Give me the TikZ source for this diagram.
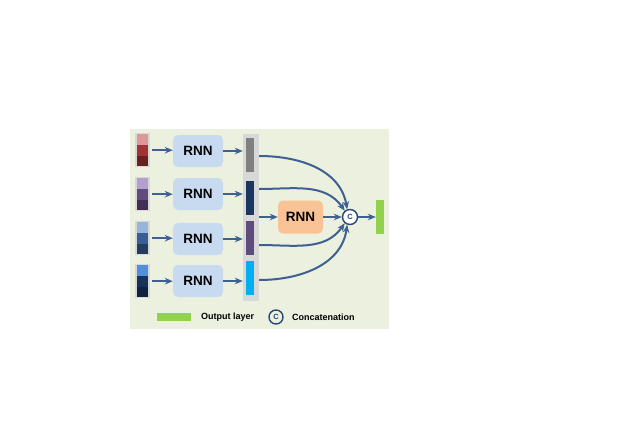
\documentclass[tikz,border=0pt]{standalone}
\usepackage{fontspec}
\setmainfont{Liberation Sans}
\usetikzlibrary{arrows.meta,calc}

\definecolor{panel}{RGB}{235,240,223}
\definecolor{arrowc}{RGB}{62,96,146}
\definecolor{rnnblue}{RGB}{200,218,240}
\definecolor{rnnorange}{RGB}{249,195,150}
\definecolor{outgreen}{RGB}{146,208,80}
\definecolor{colgray}{RGB}{216,216,216}
\definecolor{catnavy}{RGB}{40,70,120}
% input colours
\definecolor{redA}{RGB}{222,150,150}
\definecolor{redB}{RGB}{160,52,52}
\definecolor{redC}{RGB}{105,32,32}
\definecolor{purA}{RGB}{180,160,205}
\definecolor{purB}{RGB}{95,75,125}
\definecolor{purC}{RGB}{65,45,85}
\definecolor{bluA}{RGB}{150,180,220}
\definecolor{bluB}{RGB}{55,95,150}
\definecolor{bluC}{RGB}{35,60,95}
\definecolor{navA}{RGB}{80,145,220}
\definecolor{navB}{RGB}{25,50,90}
\definecolor{navC}{RGB}{15,35,65}
% hidden state colours
\definecolor{hgray}{RGB}{128,128,128}
\definecolor{hnavy}{RGB}{25,55,95}
\definecolor{hpurple}{RGB}{95,75,125}
\definecolor{hcyan}{RGB}{0,176,240}

\tikzset{
  arr/.style={-{Stealth[length=8pt,width=6.5pt]},line width=2pt,draw=arrowc},
  rnn/.style={rounded corners=5pt,fill=rnnblue,minimum width=50pt,minimum height=32pt,
    font=\bfseries\fontsize{13.5}{13.5}\selectfont},
  bar/.style={minimum width=8pt,minimum height=34pt,inner sep=0pt},
  cat/.style={circle,draw=catnavy,line width=1.4pt,fill=white,inner sep=0pt,minimum size=15pt,
    text=catnavy,font=\bfseries\fontsize{7.5}{7.5}\selectfont},
  legend/.style={anchor=west,inner sep=0pt,font=\bfseries\fontsize{9}{9}\selectfont}
}

% input sequence: name, top y, three colours
\newcommand{\instack}[5]{%
  \node[fill=colgray,minimum width=15pt,minimum height=34pt,inner sep=0pt,anchor=north] (#1) at (142.5,-#2) {};
  \fill[#3] (137,-#2-1) rectangle (148,-#2-12);
  \fill[#4] (137,-#2-12) rectangle (148,-#2-23);
  \fill[#5] (137,-#2-23) rectangle (148,-#2-33);
}

\begin{document}
\begin{tikzpicture}[x=1pt,y=1pt]
\useasboundingbox (0,0) rectangle (632,-447);
\fill[panel] (130,-129) rectangle (389,-329);

% inputs
\instack{in1}{133}{redA}{redB}{redC}
\instack{in2}{177}{purA}{purB}{purC}
\instack{in3}{221}{bluA}{bluB}{bluC}
\instack{in4}{264}{navA}{navB}{navC}

\node[rnn] (r1) at (198,-151) {RNN};
\node[rnn] (r2) at (198,-194) {RNN};
\node[rnn] (r3) at (198,-239) {RNN};
\node[rnn] (r4) at (198,-281) {RNN};

% hidden states
\node[fill=colgray,minimum width=16pt,minimum height=167pt,inner sep=0pt] (col) at (251,-217.5) {};
\node[bar,fill=hgray] (b1) at (250,-155) {};
\node[bar,fill=hnavy] (b2) at (250,-198) {};
\node[bar,fill=hpurple] (b3) at (250,-237.5) {};
\node[bar,fill=hcyan] (b4) at (250,-277.5) {};

\node[rnn,fill=rnnorange,minimum width=45pt,minimum height=33pt] (r5) at (300.5,-217) {RNN};
\node[cat] (c) at (350,-217) {C};
\node[bar,fill=outgreen] (out) at (380,-217) {};

\foreach \i in {1,...,4} {
  \draw[arr,shorten <=2pt] (in\i.east) -- (r\i.west |- in\i.east);
  \draw[arr] (r\i.east) -- (r\i.east -| col.west);
}
\draw[arr] (col.east |- r5) -- (r5);
\draw[arr] (r5) -- (c);
\draw[arr] (c) -- (out);

\draw[arr] ($(col.east |- b1)+(0,-1)$) to[out=0,in=100] (c.110);
\draw[arr] ($(col.east |- b2)+(0,9)$) to[out=0,in=125] (c.130);
\draw[arr] ($(col.east |- b3)+(0,-7.5)$) to[out=0,in=235] (c.230);
\draw[arr] ($(col.east |- b4)+(0,-2.5)$) to[out=0,in=262] (c.250);

% legend
\node[bar,fill=outgreen,minimum width=34pt,minimum height=8pt] (lgbar) at (174,-317) {};
\node[legend] (lgout) at (201,-317) {Output layer};
\node[cat,minimum size=14pt,fill=none] (lgc) at (276,-317) {C};
\node[legend] (lgcat) at (292,-317) {Concatenation};
\end{tikzpicture}
\end{document}
